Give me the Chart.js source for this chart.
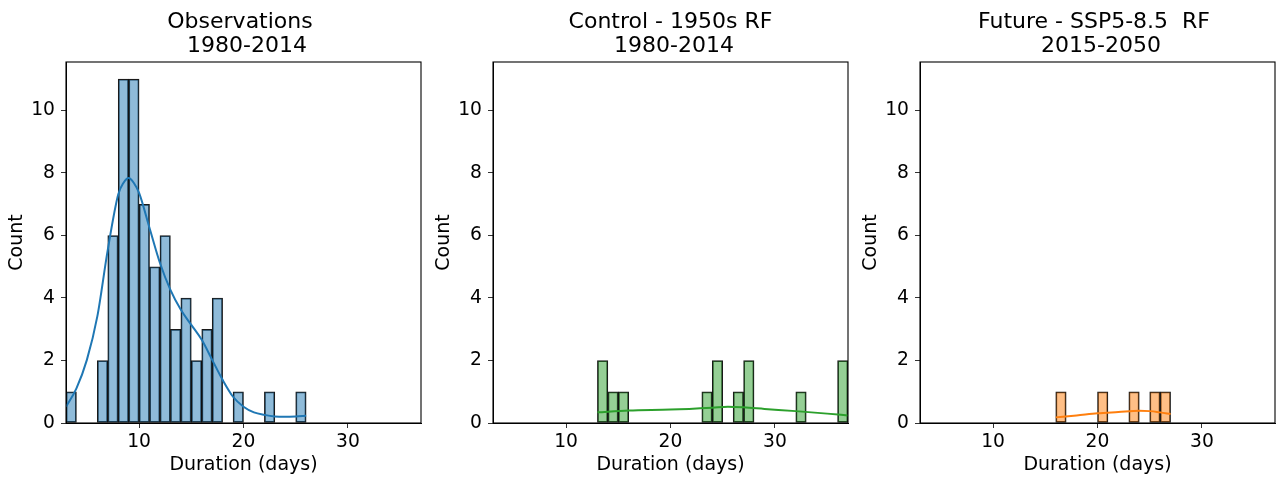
<!DOCTYPE html>
<html>
<head>
<meta charset="utf-8">
<script src="https://cdn.jsdelivr.net/npm/chart.js@4.4.1/dist/chart.umd.min.js"></script>
<style>
  body { margin: 0; background: #fff; }
  #fig { position: relative; width: 1277px; height: 479px; }
  canvas { position: absolute; top: 0; }
</style>
</head>
<body>
<div id="fig">
  <canvas id="obsChart" width="430" height="479" style="left:0px"></canvas>
  <canvas id="ctlChart" width="430" height="479" style="left:427px"></canvas>
  <canvas id="futChart" width="423" height="479" style="left:854px"></canvas>
</div>
<script>
// histogram bins (1 day wide, centres)
var binCentres = [3.5, 4.5, 5.5, 6.5, 7.5, 8.5, 9.5, 10.5, 11.5, 12.5, 13.5, 14.5, 15.5, 16.5, 17.5, 18.5, 19.5,
                  20.5, 21.5, 22.5, 23.5, 24.5, 25.5, 26.5, 27.5, 28.5, 29.5, 30.5, 31.5, 32.5, 33.5, 34.5, 35.5, 36.5];

var obsCounts = [1, 0, 0, 2, 6, 11, 11, 7, 5, 6, 3, 4, 2, 3, 4, 0, 1,
                 0, 0, 1, 0, 0, 1, 0, 0, 0, 0, 0, 0, 0, 0, 0, 0, 0];
var ctlCounts = [0, 0, 0, 0, 0, 0, 0, 0, 0, 0, 2, 1, 1, 0, 0, 0, 0,
                 0, 0, 0, 1, 2, 0, 1, 2, 0, 0, 0, 0, 1, 0, 0, 0, 2];
var futCounts = [0, 0, 0, 0, 0, 0, 0, 0, 0, 0, 0, 0, 0, 1, 0, 0, 0,
                 1, 0, 0, 1, 0, 1, 1, 0, 0, 0, 0, 0, 0, 0, 0, 0, 0];

// kde curves (count scale)
var obsKdeX = [3, 4, 5, 6, 7, 8, 8.5, 9, 9.5, 10, 11, 12, 13, 14, 15, 16, 17, 18, 19, 20, 21, 22, 23, 24, 25, 26];
var obsKdeY = [0.52, 1.11, 2.02, 3.41, 5.54, 7.31, 7.68, 7.84, 7.68, 7.36, 6.24, 5.12, 4.26, 3.62, 3.14, 2.66, 2.02,
               1.38, 0.84, 0.52, 0.34, 0.26, 0.21, 0.2, 0.21, 0.23];
var ctlKdeX = [13, 16, 20, 24, 25.5, 27, 29, 32, 35, 37];
var ctlKdeY = [0.34, 0.40, 0.43, 0.49, 0.52, 0.50, 0.45, 0.38, 0.30, 0.24];
var futKdeX = [16, 18, 20, 22, 24, 25, 26, 27];
var futKdeY = [0.18, 0.24, 0.31, 0.35, 0.39, 0.38, 0.34, 0.29];

var xTicks = [10, 20, 30];
var yTicks = [0, 2, 4, 6, 8, 10];

Chart.defaults.font.family = "'DejaVu Sans', sans-serif";
Chart.defaults.color = "#000";

var framePlugin = {
    id: "frame",
    afterDatasetsDraw: function (chart) {
        var a = chart.chartArea, c = chart.ctx;
        c.save();
        c.strokeStyle = "#000";
        c.lineWidth = 1.1;
        c.strokeRect(a.left, a.top, a.right - a.left, a.bottom - a.top);
        c.restore();
    }
};

function pairs(xs, ys) {
    return xs.map(function (x, i) { return { x: x, y: ys[i] }; });
}

function makeChart(id, title, counts, kdeX, kdeY, lineColor, fillColor, rightPad) {
    var ctx = document.getElementById(id).getContext("2d");
    return new Chart(ctx, {
        type: "bar",
        data: {
            datasets: [{
                type: "line",
                data: pairs(kdeX, kdeY),
                borderColor: lineColor,
                borderWidth: 2,
                pointRadius: 0,
                cubicInterpolationMode: "monotone",
                order: 0
            }, {
                type: "bar",
                data: pairs(binCentres, counts),
                backgroundColor: fillColor,
                borderColor: "rgba(0,0,0,0.9)",
                borderWidth: 1.1,
                borderSkipped: false,
                barPercentage: 1,
                categoryPercentage: 1,
                grouped: false,
                order: 1
            }]
        },
        options: {
            responsive: false,
            animation: false,
            devicePixelRatio: 1,
            layout: { padding: { right: rightPad, left: 0, top: 0, bottom: 0 } },
            plugins: {
                legend: { display: false },
                tooltip: { enabled: false },
                title: {
                    display: true,
                    fullSize: false,
                    text: title,
                    color: "#000",
                    font: { size: 22, weight: "normal", lineHeight: 1.1 },
                    padding: { top: 9.8, bottom: 3.8 }
                }
            },
            scales: {
                x: {
                    type: "linear",
                    min: 3,
                    max: 37,
                    offset: false,
                    afterFit: function (s) { s.height = 56; },
                    afterBuildTicks: function (s) { s.ticks = xTicks.map(function (v) { return { value: v }; }); },
                    grid: { drawOnChartArea: false, drawTicks: true, tickLength: 5, color: "#333", offset: false },
                    border: { display: true, color: "#000", width: 1 },
                    ticks: { font: { size: 18.7 }, padding: 3, maxRotation: 0 },
                    title: { display: true, text: "Duration (days)", font: { size: 19 }, padding: { top: 0, bottom: 2.6 } }
                },
                y: {
                    min: 0,
                    max: 11.55,
                    afterFit: function (s) { s.width = 66; },
                    afterBuildTicks: function (s) { s.ticks = yTicks.map(function (v) { return { value: v }; }); },
                    grid: { drawOnChartArea: false, drawTicks: true, tickLength: 5, color: "#333" },
                    border: { display: true, color: "#000", width: 1 },
                    ticks: { font: { size: 18.7 }, padding: 6 },
                    title: { display: true, text: "Count", font: { size: 19 }, padding: { top: 5.3, bottom: 0 } }
                }
            }
        },
        plugins: [framePlugin]
    });
}

var obsChart = makeChart("obsChart", ["Observations ", " 1980-2014"], obsCounts, obsKdeX, obsKdeY,
    "#1f77b4", "rgba(31,119,180,0.5)", 9);
var ctlChart = makeChart("ctlChart", ["Control - 1950s RF", " 1980-2014"], ctlCounts, ctlKdeX, ctlKdeY,
    "#2ca02c", "rgba(44,160,44,0.5)", 9);
var futChart = makeChart("futChart", ["Future - SSP5-8.5  RF ", " 2015-2050"], futCounts, futKdeX, futKdeY,
    "#ff7f0e", "rgba(255,127,14,0.5)", 2);
</script>
</body>
</html>
